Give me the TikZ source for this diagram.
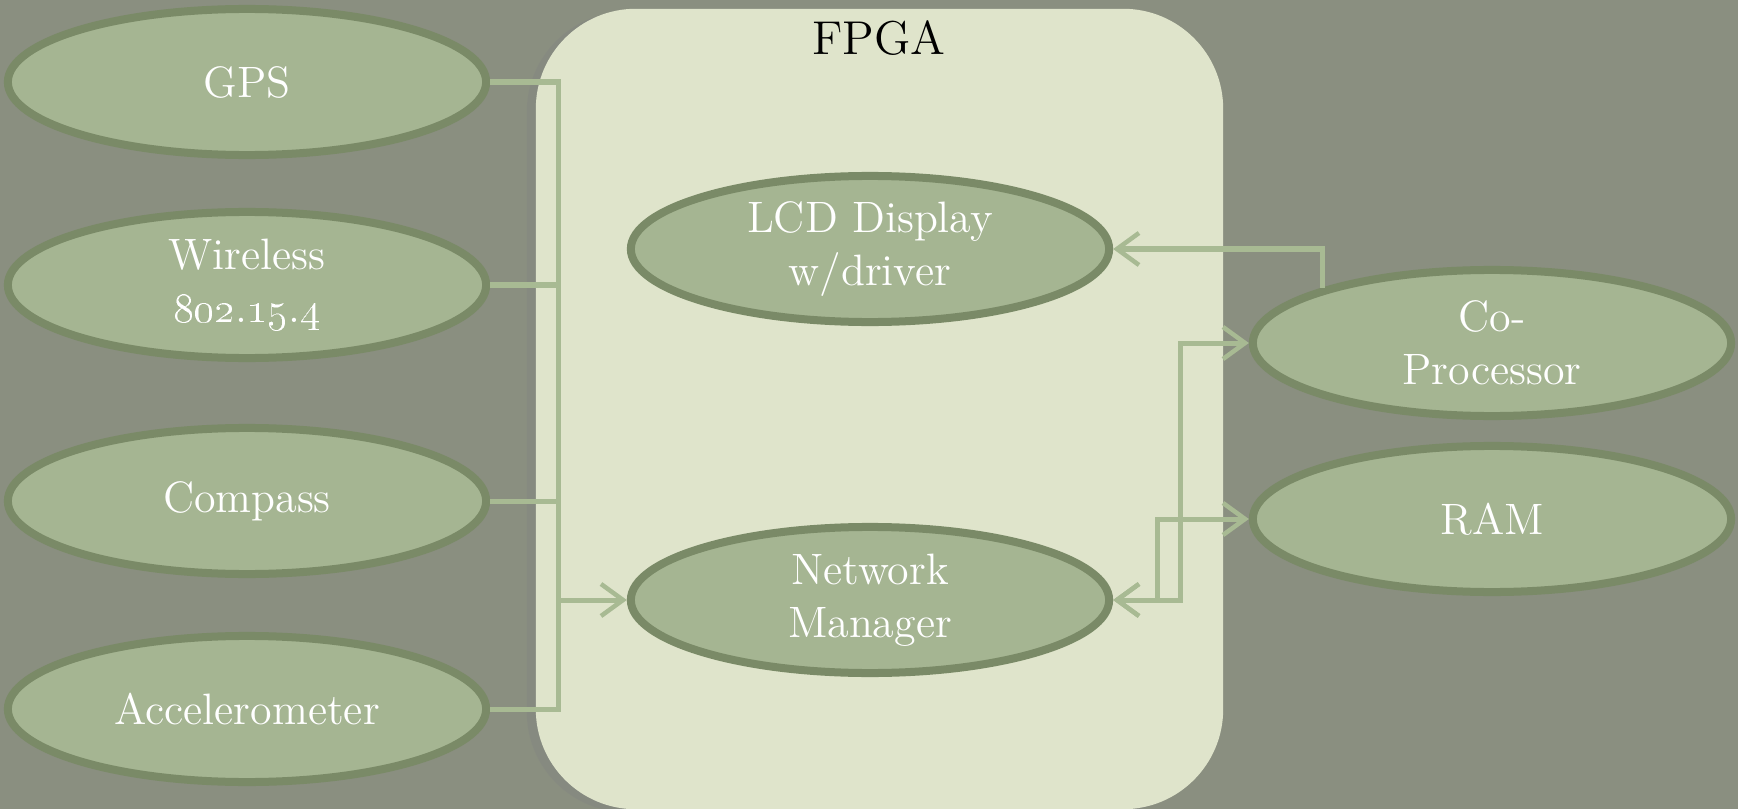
\documentclass[tikz,border=0pt]{standalone}
\usepackage{tikz}
\usetikzlibrary{arrows.meta,shapes.geometric,shadows}
\definecolor{slate}{HTML}{8A8F80}
\definecolor{chip}{HTML}{DFE4CB}
\definecolor{leaf}{HTML}{A5B592}
\definecolor{leafdark}{HTML}{7A8A67}
\definecolor{wirecol}{HTML}{A8BA93}

\begin{document}
\begin{tikzpicture}[x=0.01cm,y=-0.01cm,
    >={Straight Barb[length=2.2mm,width=3.2mm,line width=0.45mm]},
    unit/.style={ellipse,draw=leafdark,line width=0.8mm,fill=leaf,text=white,
                 minimum width=4.78cm,minimum height=1.46cm,inner sep=0pt,
                 align=center,font=\fontsize{12.5}{15}\selectfont},
    chipbox/.style={fill=chip,rounded corners=1cm,minimum width=6.87cm,
                    minimum height=8.0cm,inner sep=0pt,
                    drop shadow={shadow xshift=-0.9mm,shadow yshift=-0.3mm,opacity=0.3}},
    link/.style={draw=wirecol,line width=0.5mm}]
    \useasboundingbox (0,0) rectangle (1738,809);
    \clip (0,0) rectangle (1738,809);
    \fill[slate] (0,0) rectangle (1738,809);
    \node[chipbox] (fpga) at (879.5,409) {};
    \node[font=\fontsize{13.5}{16}\selectfont] (fpgalbl) at (879,38) {FPGA};
    \node[unit] (gps) at (247,82) {GPS};
    \node[unit] (wl) at (247,285) {Wireless\\\oldstylenums{802}.\oldstylenums{15}.\oldstylenums{4}};
    \node[unit] (cmp) at (247,501) {Compass};
    \node[unit] (acc) at (247,709) {Accelerometer};
    \node[unit] (lcd) at (870,249) {LCD Display\\w/driver};
    \node[unit] (nm) at (870,600) {Network\\Manager};
    \node[unit] (cp) at (1492,343) {Co-\\Processor};
    \node[unit] (ram) at (1492,519) {RAM};
    \coordinate (bus) at (558,0);
    \coordinate (cpx) at (1180,0);
    \coordinate (ramx) at (1157,0);
    \draw[link] (gps.east) -- (gps.east -| bus) -- (acc.east -| bus) -- (acc.east);
    \draw[link] (wl.east) -- (wl.east -| bus);
    \draw[link] (cmp.east) -- (cmp.east -| bus);
    \draw[link,->] (nm.west -| bus) -- (nm.west);
    \draw[link,->] (cp.162) |- (lcd.east);
    \draw[link,<->] (nm.east) -- (nm.east -| cpx) -- (cp.west -| cpx) -- (cp.west);
    \draw[link,<->] (nm.east) -- (nm.east -| ramx) -- (ram.west -| ramx) -- (ram.west);
\end{tikzpicture}
\end{document}
